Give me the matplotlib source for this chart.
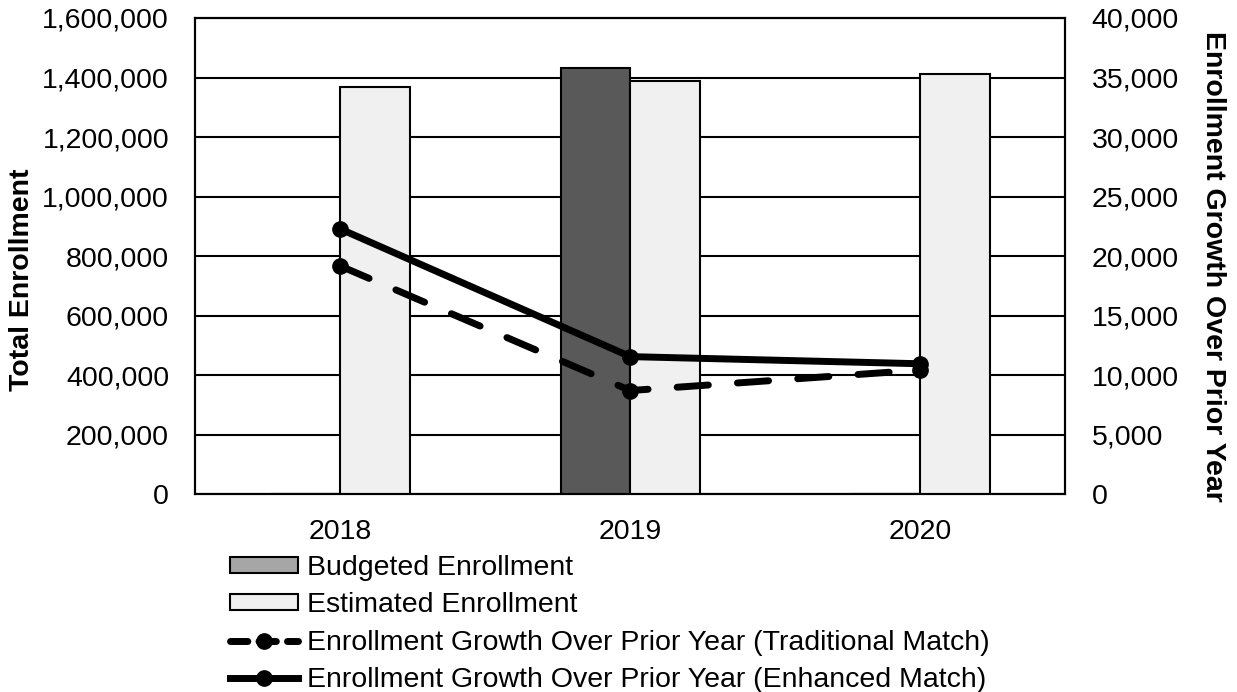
import numpy as np
import matplotlib
matplotlib.use("Agg")
from matplotlib import pyplot as plt
from matplotlib.patches import Patch
from matplotlib.lines import Line2D
from matplotlib.ticker import FuncFormatter

plt.rcParams['font.family'] = ['Liberation Sans', 'DejaVu Sans']

years = ['2018', '2019', '2020']
budgeted = [0, 1432000, 0]
estimated = [1368000, 1388000, 1412000]
growth_traditional = [19160, 8700, 10420]
growth_enhanced = [22270, 11550, 10950]

FS = 20.5
dash = (4.5, 4.2)

fig = plt.figure(figsize=(12.37, 6.92), dpi=100)
ax = fig.add_axes([0.158, 0.286, 0.703, 0.688])
ax2 = ax.twinx()

x = np.arange(len(years))
w = 0.24
ax.bar(x - w / 2, budgeted, w, color='#595959', edgecolor='black', linewidth=1.5, zorder=3)
ax.bar(x + w / 2, estimated, w, color='#f0f0f0', edgecolor='black', linewidth=1.5, zorder=3)

ax.set_ylim(0, 1600000)
ax.set_yticks(np.arange(0, 1600001, 200000))
ax.yaxis.set_major_formatter(FuncFormatter(lambda v, p: f'{int(v):,}'))
ax.grid(axis='y', color='black', linewidth=1.5, zorder=0)
ax.set_axisbelow(True)
ax.set_xlim(-0.5, 2.5)
ax.set_xticks(x)
ax.set_xticklabels(years)
ax.tick_params(axis='y', length=0, labelsize=FS, pad=19)
ax.tick_params(axis='x', length=0, labelsize=FS, pad=18)
ax.set_ylabel('Total Enrollment', fontsize=FS, fontweight='bold')
ax.yaxis.set_label_coords(-0.199, 0.45)
ax.yaxis.label.set_verticalalignment('center')

ax2.plot(x, growth_traditional, color='black', linewidth=5, dashes=dash,
         dash_capstyle='round', marker='o', markersize=11, zorder=5)
ax2.plot(x, growth_enhanced, color='black', linewidth=5, solid_capstyle='round',
         marker='o', markersize=11, zorder=5)
ax2.set_ylim(0, 40000)
ax2.set_yticks(np.arange(0, 40001, 5000))
ax2.yaxis.set_major_formatter(FuncFormatter(lambda v, p: f'{int(v):,}'))
ax2.tick_params(axis='y', length=0, labelsize=FS, pad=19)
ax2.set_ylabel('Enrollment Growth Over Prior Year', fontsize=FS, fontweight='bold',
               rotation=270)
ax2.yaxis.set_label_coords(1.170, 0.479)
ax2.yaxis.label.set_verticalalignment('center')

for a in (ax, ax2):
    for s in a.spines.values():
        s.set_linewidth(1.5)
        s.set_color('black')

handles = [
    Patch(facecolor='#a6a6a6', edgecolor='black', linewidth=1.5),
    Patch(facecolor='#f0f0f0', edgecolor='black', linewidth=1.5),
    Line2D([], [], color='black', linewidth=5, dashes=(2.5, 1.6), dash_capstyle='round',
           marker='o', markersize=11),
    Line2D([], [], color='black', linewidth=5, marker='o', markersize=11),
]
labels = ['Budgeted Enrollment', 'Estimated Enrollment',
          'Enrollment Growth Over Prior Year (Traditional Match)',
          'Enrollment Growth Over Prior Year (Enhanced Match)']
fig.legend(handles, labels, loc='upper left', bbox_to_anchor=(0.186, 0.198),
           frameon=False, fontsize=FS, handlelength=2.4, handleheight=0.5,
           handletextpad=0.3, labelspacing=0.4, borderpad=0, borderaxespad=0)

fig.savefig('out.png', dpi=100)
